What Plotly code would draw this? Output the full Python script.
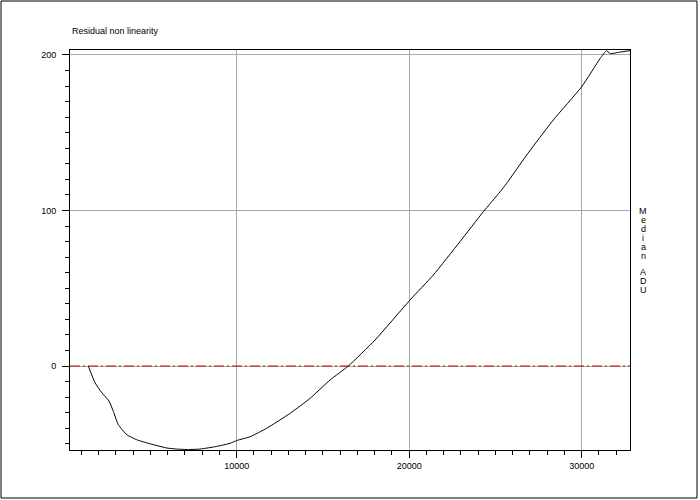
import plotly.graph_objects as go

# Data
adu = [1397, 1786, 2174, 2597, 2846, 3136, 3623, 4203, 4974, 5942, 6522, 7200, 7872,
       8841, 9612, 10000, 10771, 11739, 13101, 14249, 15409, 16470, 18017, 20043,
       21397, 22945, 24296, 25264, 25652, 26812, 28354, 30000, 31072, 31449, 31640,
       32200, 32800]
residual = [0, -10.7, -17.1, -22.5, -29.1, -37.7, -44.1, -47.4, -50, -52.7, -53.4, -53.7, -53.4,
            -51.7, -49.7, -47.9, -45.5, -40, -30.4, -20.8, -9, 0, 16.7, 42.4,
            58.5, 80, 99.2, 112, 117.5, 135.7, 158.2, 179.6, 197.8, 202.8, 200.9,
            201.8, 202.8]

title_text = "Residual non linearity"
right_label = "Median ADU"
x_range = [336, 32800]
y_range = [-54, 203.2]

FONT = "Liberation Sans"

fig = go.Figure()
fig.add_trace(go.Scatter(x=adu, y=residual, mode="lines",
                         line=dict(color="black", width=1, shape="spline", smoothing=0.5),
                         showlegend=False, hoverinfo="skip"))

W, H = 700, 500
ml, mr, mt, mb = 70, 70, 50, 50
pw, ph = W - ml - mr, H - mt - mb

def px_x(p):
    return (p - ml) / pw

def px_y(p):
    return (H - mb - p) / ph

shapes = [
    # zero reference line
    dict(type="line", xref="paper", yref="y", x0=0, x1=1, y0=0, y1=0,
         line=dict(color="#c00000", width=1, dash="10px,3px,2px,3px")),
    # outer frame
    dict(type="rect", xref="paper", yref="paper",
         x0=px_x(1), x1=px_x(697), y0=px_y(498), y1=px_y(1),
         line=dict(color="black", width=1)),
]

annotations = [
    dict(text=title_text, xref="paper", yref="paper", x=0, y=px_y(31),
         xanchor="left", yanchor="middle", showarrow=False,
         font=dict(family=FONT, size=9, color="black")),
]

letter_y = [210.7, 219.6, 228.8, 237.7, 247.0, 256.0, 265.0, 272.0, 281.0, 290.0]
for ch, py in zip(right_label, letter_y):
    if ch.strip():
        annotations.append(dict(text=ch, xref="paper", yref="paper",
                                x=px_x(643), y=px_y(py), xanchor="center",
                                yanchor="middle", showarrow=False,
                                font=dict(family=FONT, size=9, color="black")))

fig.update_layout(
    width=W, height=H,
    margin=dict(l=ml, r=mr, t=mt, b=mb, pad=0),
    paper_bgcolor="white", plot_bgcolor="white",
    font=dict(family=FONT, size=9, color="black"),
    shapes=shapes, annotations=annotations,
    showlegend=False,
    xaxis=dict(range=x_range, tick0=0, dtick=10000, ticks="outside", ticklen=7,
               tickcolor="black", tickwidth=1, showgrid=True, gridcolor="#a8a8a8",
               gridwidth=1, zeroline=False, showline=True, linecolor="black",
               linewidth=1, mirror=True, tickformat="d",
               minor=dict(dtick=1000, tick0=0, ticks="outside", ticklen=4,
                          tickcolor="black", showgrid=False),
               tickfont=dict(family=FONT, size=9, color="black")),
    yaxis=dict(range=y_range, tick0=0, dtick=100, ticks="outside", ticklen=7,
               tickcolor="black", tickwidth=1, showgrid=True, gridcolor="#a8a8a8",
               gridwidth=1, zeroline=False, showline=True, linecolor="black",
               linewidth=1, mirror=True, ticklabelstandoff=4,
               minor=dict(dtick=10, tick0=0, ticks="outside", ticklen=4,
                          tickcolor="black", showgrid=False),
               tickfont=dict(family=FONT, size=9, color="black")),
)

fig.write_html("out.html", config={"displayModeBar": False},
               post_script="document.body.style.margin='0';document.body.style.overflow='hidden';")
